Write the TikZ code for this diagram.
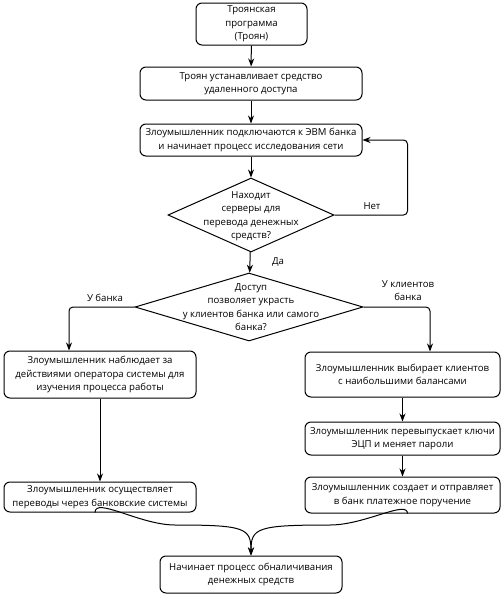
\documentclass[tikz,border=0pt]{standalone}
\usepackage{fontspec}
\setmainfont{Open Sans}
\usetikzlibrary{shapes.geometric,arrows.meta,calc}
\begin{document}
\begin{tikzpicture}[x=1pt,y=-1pt,
  every node/.style={font=\fontsize{9.6}{13.5}\selectfont, align=center, inner sep=0pt},
  box/.style={draw, line width=1pt, rounded corners=6pt},
  dia/.style={draw, line width=1pt, diamond, inner sep=0pt},
  arr/.style={draw, line width=1pt, -{Stealth[length=8pt,width=6pt,inset=2.5pt]}},
  lbl/.style={}
]
\useasboundingbox (0,0) rectangle (502,595);
\fill[white] (0,0) rectangle (502,595);

\node[box, minimum width=111, minimum height=42] (b1) at (251.5,24) {Троянская\\программа\\(Троян)};
\node[box, minimum width=222, minimum height=33] (b2) at (251,83.5) {Троян устанавливает средство\\удаленного доступа};
\node[box, minimum width=222, minimum height=32] (b3) at (251,140) {Злоумышленник подключаются к ЭВМ банка\\и начинает процесс исследования сети};
\node[dia, minimum width=166, minimum height=74] (d1) at (251,215) {};
\node (d1t) at (251,216) {Находит\\серверы для\\перевода денежных\\средств?};
\node[dia, minimum width=228, minimum height=68] (d2) at (249,307) {};
\node (d2t) at (251,307) {Доступ\\позволяет украсть\\у клиентов банка или самого\\банка?};
\node[box, minimum width=192, minimum height=47] (b4) at (100,374.5) {Злоумышленник наблюдает за\\действиями оператора системы для\\изучения процесса работы};
\node[box, minimum width=192, minimum height=30] (b5) at (100,497) {Злоумышленник осуществляет\\переводы через банковские системы};
\node[box, minimum width=195, minimum height=45] (b6) at (402.5,374.5) {Злоумышленник выбирает клиентов\\с наибольшими балансами};
\node[box, minimum width=195, minimum height=33] (b7) at (402.5,438.5) {Злоумышленник перевыпускает ключи\\ЭЦП и меняет пароли};
\node[box, minimum width=195, minimum height=36] (b8) at (402.5,495) {Злоумышленник создает и отправляет\\в банк платежное поручение};
\node[box, minimum width=182, minimum height=37] (b9) at (251,574.5) {Начинает процесс обналичивания\\денежных средств};

\node[lbl] (lnet) at (372,206) {Нет};
\node[lbl] (lda) at (278,262) {Да};
\node[lbl] (lbank) at (105,298) {У банка};
\node[lbl] (lcl) at (408,290.5) {У клиентов\\банка};

\draw[arr] (b1) -- (b2);
\draw[arr] (b2) -- (b3);
\draw[arr] (b3) -- (d1);
\draw[arr, rounded corners=4pt] (d1.east) -| ([xshift=45]b3.east) -- (b3.east);
\draw[arr] (d1) -- (d2);
\draw[arr, rounded corners=4pt] (d2.west) -| ([xshift=-31]b4.north);
\draw[arr, rounded corners=4pt] (d2.east) -| ([xshift=27.5]b6.north);
\draw[arr] (b4) -- (b5);
\draw[arr] (b6) -- (b7);
\draw[arr] (b7) -- (b8);
\draw[arr] ([xshift=-5]b5.south) .. controls ([xshift=-5,yshift=16]b5.south) and (140,525) .. (175,525) .. controls (245,525) and (251,528) .. (b9.north);
\draw[arr] ([xshift=5]b8.south) .. controls ([xshift=5,yshift=14]b8.south) and (365,525) .. (330,525) .. controls (257,525) and (251,528) .. (b9.north);
\end{tikzpicture}
\end{document}
